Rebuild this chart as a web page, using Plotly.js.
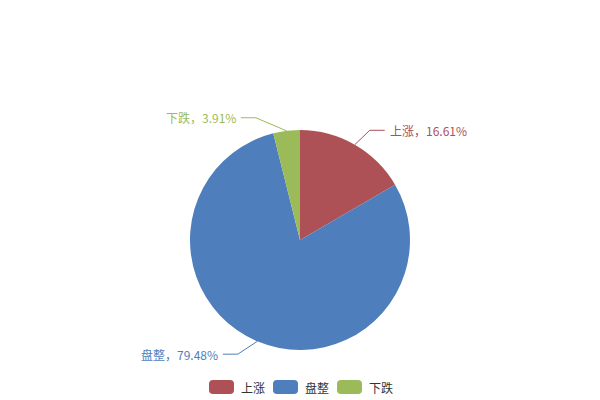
<!DOCTYPE html>
<html>
<head>
<meta charset="utf-8">
<script src="https://cdn.plot.ly/plotly-3.0.1.min.js"></script>
<style>html,body{margin:0;padding:0;background:#fff;}#chart{width:600px;height:400px;}</style>
</head>
<body>
<div id="chart"></div>
<script>
const categories = ['上涨', '盘整', '下跌'];
const values = [16.61, 79.48, 3.91];
const colors = ['#AD5157', '#4E7EBB', '#9BBB59'];

const W = 600, H = 400;
const cx = 300, cy = 240, R = 110;
const domainX = [(cx - R) / W, (cx + R) / W];
const domainY = [1 - (cy + R) / H, 1 - (cy - R) / H];
const px = x => x / W;
const py = y => 1 - y / H;
const FONT = 'Noto Sans CJK SC, sans-serif';

const total = values.reduce((a, b) => a + b, 0);
const shapes = [];
const annotations = [];
let cum = 0;
const rElbow = R + 20, len2 = 15, gap = 3;
values.forEach((v, i) => {
  const mid = (cum + v / 2) / total * 2 * Math.PI;
  cum += v;
  const s = Math.sin(mid), c = Math.cos(mid);
  const sx = cx + R * s, sy = cy - R * c;
  const right = s >= 0;
  // leader line elbow: pushed away from the vertical axis, like the original chart library's layout
  const phi = Math.acos(Math.min(1, Math.abs(c)));
  const phi2 = Math.min(Math.PI / 2, 16 * Math.PI / 180 + 0.55 * phi);
  const ex = cx + (right ? 1 : -1) * rElbow * Math.sin(phi2);
  const ey = cy - (c >= 0 ? 1 : -1) * rElbow * Math.cos(phi2);
  const hx = ex + (right ? len2 : -len2);
  shapes.push({
    type: 'path', xref: 'paper', yref: 'paper',
    path: `M ${px(sx)} ${py(sy)} L ${px(ex)} ${py(ey)} L ${px(hx)} ${py(ey)}`,
    line: {color: colors[i], width: 1}
  });
  annotations.push({
    xref: 'paper', yref: 'paper', x: px(hx + (right ? gap : -gap)), y: py(ey),
    xanchor: right ? 'left' : 'right', yanchor: 'middle', showarrow: false,
    text: `${categories[i]}，${(v / total * 100).toFixed(2)}%`,
    font: {family: FONT, size: 12, color: colors[i]}
  });
});

// custom legend: rounded swatches + labels, centred at the bottom
const swW = 25, swH = 14, swR = 4, swGap = 5, itemGap = 10, legY = 387;
const textW = categories.map(t => t.length * 12);
const totalW = textW.reduce((a, w) => a + swW + swGap + w, 0) + itemGap * (categories.length - 1);
let lx = W / 2 - totalW / 2;
categories.forEach((t, i) => {
  const x0 = lx, x1 = lx + swW, y0 = legY - swH / 2, y1 = legY + swH / 2;
  const P = (x, y) => `${px(x)},${py(y)}`;
  shapes.push({
    type: 'path', xref: 'paper', yref: 'paper',
    path: `M ${P(x0 + swR, y0)} L ${P(x1 - swR, y0)} Q ${P(x1, y0)} ${P(x1, y0 + swR)} L ${P(x1, y1 - swR)} Q ${P(x1, y1)} ${P(x1 - swR, y1)} L ${P(x0 + swR, y1)} Q ${P(x0, y1)} ${P(x0, y1 - swR)} L ${P(x0, y0 + swR)} Q ${P(x0, y0)} ${P(x0 + swR, y0)} Z`,
    fillcolor: colors[i], line: {width: 0}
  });
  annotations.push({
    xref: 'paper', yref: 'paper', x: px(x1 + swGap), y: py(legY),
    xanchor: 'left', yanchor: 'middle', showarrow: false, text: t,
    font: {family: FONT, size: 12, color: '#333'}
  });
  lx = x1 + swGap + textW[i] + itemGap;
});

const data = [{
  type: 'pie',
  labels: categories,
  values: values,
  sort: false,
  direction: 'clockwise',
  rotation: 0,
  textinfo: 'none',
  hoverinfo: 'label+percent',
  marker: {colors: colors, line: {width: 0}},
  domain: {x: domainX, y: domainY}
}];

const layout = {
  width: W, height: H,
  margin: {l: 0, r: 0, t: 0, b: 0},
  paper_bgcolor: '#fff',
  showlegend: false,
  shapes: shapes,
  annotations: annotations
};

Plotly.newPlot('chart', data, layout, {displayModeBar: false, staticPlot: true});
</script>
</body>
</html>
